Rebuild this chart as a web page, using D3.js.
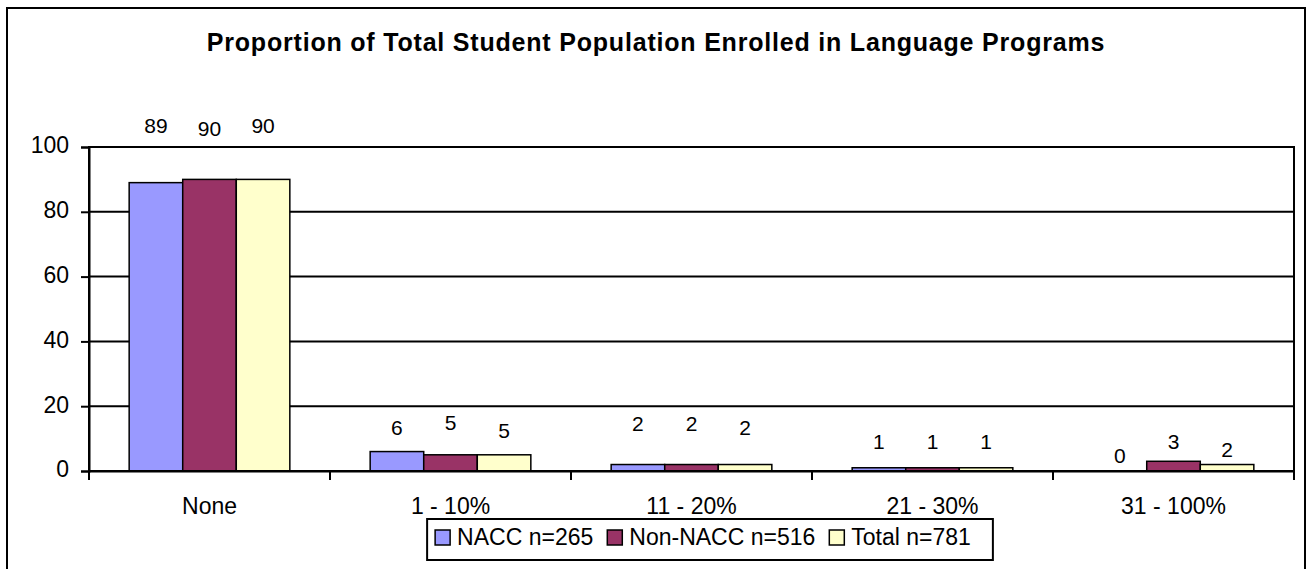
<!DOCTYPE html>
<html>
<head>
<meta charset="utf-8">
<script src="https://d3js.org/d3.v7.min.js"></script>
<style>
  body { margin: 0; background: white; }
  text { font-family: Arial, "Liberation Sans", sans-serif; fill: black; }
</style>
</head>
<body>
<svg id="chart" width="1311" height="569"></svg>
<script>
// chart data
var categories = ["None", "1 - 10%", "11 - 20%", "21 - 30%", "31 - 100%"];
var seriesNames = ["NACC n=265", "Non-NACC n=516", "Total n=781"];
var nacc    = [89, 6, 2, 1, 0];
var nonNacc = [90, 5, 2, 1, 3];
var total   = [90, 5, 2, 1, 2];
var yTicks  = [0, 20, 40, 60, 80, 100];

var colors = ["#9999FF", "#993366", "#FFFFCC"];
// hand placed label nudges in the original (px above the bar top, per series / category)
var labelLift = [
  [50, 17, 34, 19, 8],
  [43, 25, 34, 19, 12],
  [46, 17, 30, 19, 8]
];

var values = [nacc, nonNacc, total];

var svg = d3.select("#chart");

// outer frame
svg.append("rect")
  .attr("x", 7).attr("y", 8)
  .attr("width", 1298).attr("height", 580)
  .attr("fill", "white")
  .attr("stroke", "black")
  .attr("stroke-width", 2);

// title
svg.append("text")
  .attr("x", 656)
  .attr("y", 51)
  .attr("text-anchor", "middle")
  .attr("font-size", "25px")
  .attr("font-weight", "bold")
  .attr("letter-spacing", "0.8px")
  .text("Proportion of Total Student Population Enrolled in Language Programs");

// scales
var x = d3.scaleBand()
  .domain(categories)
  .range([89, 1294])
  .padding(0);

var xs = d3.scaleBand()
  .domain(d3.range(seriesNames.length))
  .range([0, x.bandwidth()])
  .paddingInner(0)
  .paddingOuter(0.75);

var y = d3.scaleLinear()
  .domain([0, 100])
  .range([471, 147]);

// gridlines
svg.append("g")
  .selectAll("line")
  .data(yTicks.filter(function(d) { return d > 0; }))
  .enter().append("line")
  .attr("x1", 89).attr("x2", 1294)
  .attr("y1", function(d) { return y(d); })
  .attr("y2", function(d) { return y(d); })
  .attr("stroke", "black")
  .attr("stroke-width", 2);

// bars
var groups = svg.append("g")
  .selectAll("g")
  .data(values)
  .enter().append("g");

groups.selectAll("rect")
  .data(function(d, i) { return d.map(function(v, j) { return {s: i, c: categories[j], v: v}; }); })
  .enter().append("rect")
  .attr("x", function(d) { return x(d.c) + xs(d.s); })
  .attr("y", function(d) { return y(d.v); })
  .attr("width", xs.bandwidth())
  .attr("height", function(d) { return y(0) - y(d.v); })
  .attr("fill", function(d) { return colors[d.s]; })
  .attr("stroke", "black")
  .attr("stroke-width", 1.5);

// value labels
groups.selectAll("text")
  .data(function(d, i) { return d.map(function(v, j) { return {s: i, j: j, c: categories[j], v: v}; }); })
  .enter().append("text")
  .attr("x", function(d) { return x(d.c) + xs(d.s) + xs.bandwidth() / 2; })
  .attr("y", function(d) { return y(d.v) - labelLift[d.s][d.j]; })
  .attr("text-anchor", "middle")
  .attr("font-size", "21px")
  .text(function(d) { return d.v; });

// plot area border
svg.append("rect")
  .attr("x", 89).attr("y", 147)
  .attr("width", 1294 - 89).attr("height", 471 - 147)
  .attr("fill", "none")
  .attr("stroke", "black")
  .attr("stroke-width", 2);

// y axis
var yAxis = svg.append("g")
  .attr("transform", "translate(89,0)")
  .call(d3.axisLeft(y).tickValues(yTicks).tickSize(8).tickPadding(12));
yAxis.selectAll("path, line").attr("stroke", "black").attr("stroke-width", 2);
yAxis.selectAll("text").attr("font-size", "23px").attr("font-family", null).attr("dy", "0.26em");

// x axis (labels centered, ticks on category boundaries)
var xAxis = svg.append("g")
  .attr("transform", "translate(0,471)")
  .call(d3.axisBottom(x).tickSize(0).tickSizeOuter(0).tickPadding(27));
xAxis.select(".domain").attr("stroke", "black").attr("stroke-width", 2);
xAxis.selectAll("text").attr("font-size", "23px").attr("font-family", null);

var bounds = categories.map(function(c) { return x(c); }).concat([x.range()[1]]);
svg.append("g")
  .selectAll("line")
  .data(bounds)
  .enter().append("line")
  .attr("x1", function(d) { return d; })
  .attr("x2", function(d) { return d; })
  .attr("y1", 471).attr("y2", 480)
  .attr("stroke", "black")
  .attr("stroke-width", 2);

// legend
var legend = svg.append("g");
var box = legend.append("rect")
  .attr("fill", "white")
  .attr("stroke", "black")
  .attr("stroke-width", 2);

var cursor = 0;
seriesNames.forEach(function(name, i) {
  var g = legend.append("g");
  g.append("rect")
    .attr("x", cursor).attr("y", -15)
    .attr("width", 15).attr("height", 15)
    .attr("fill", colors[i])
    .attr("stroke", "black")
    .attr("stroke-width", 1.5);
  var t = g.append("text")
    .attr("x", cursor + 22)
    .attr("y", 0)
    .attr("font-size", "23px")
    .text(name);
  cursor += 22 + t.node().getComputedTextLength() + 14;
});
var innerW = cursor - 14;
var boxW = innerW + 16 + 14;
var boxLeft = 710 - boxW / 2;
box.attr("x", -8).attr("y", -26).attr("width", boxW).attr("height", 41);
legend.attr("transform", "translate(" + (boxLeft + 8) + ",545)");
</script>
</body>
</html>
